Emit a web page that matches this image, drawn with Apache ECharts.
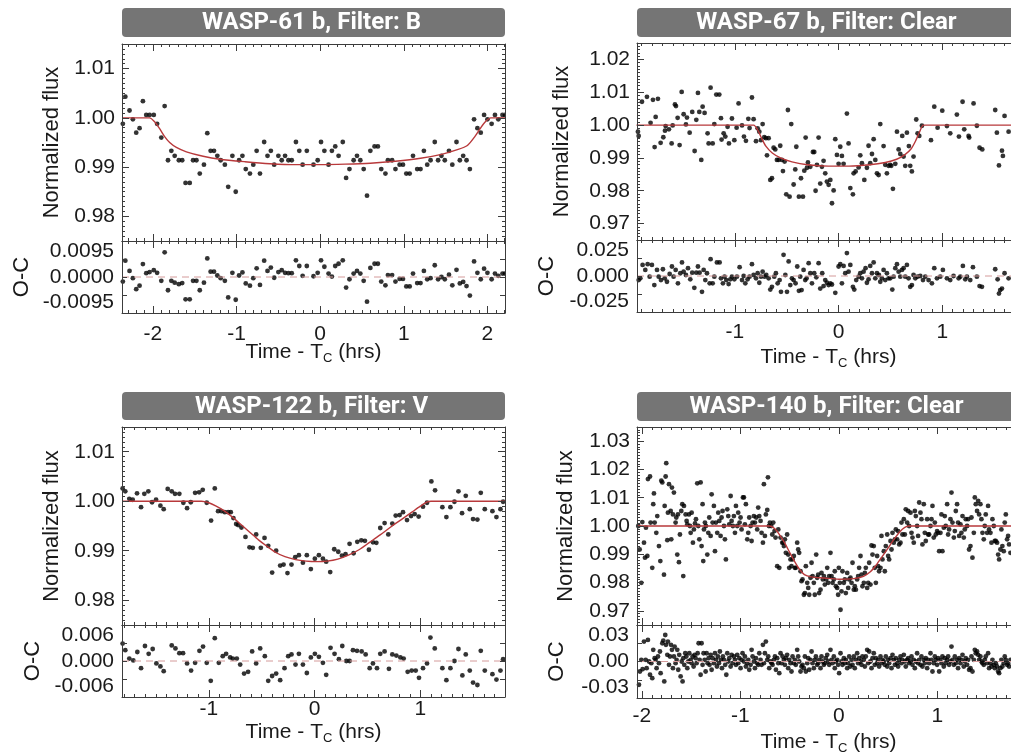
<!DOCTYPE html>
<html><head><meta charset="utf-8">
<script src="https://cdn.jsdelivr.net/npm/echarts@6.0.0/dist/echarts.min.js"></script>
<style>html,body{margin:0;padding:0;background:#fff;overflow:hidden}
#c{position:relative;width:1011px;height:756px;overflow:hidden;background:#fff}
.q{position:absolute;height:378px}</style>
</head><body><div id="c">
<div class="q" id="q0" style="left:0;top:0;width:506px"></div>
<div class="q" id="q1" style="left:506px;top:0;width:520px"></div>
<div class="q" id="q2" style="left:0;top:378px;width:506px"></div>
<div class="q" id="q3" style="left:506px;top:378px;width:520px"></div>
</div>
<script>
// ---------------- DATA ----------------
const titles = ['WASP-61 b, Filter: B', 'WASP-67 b, Filter: Clear', 'WASP-122 b, Filter: V', 'WASP-140 b, Filter: Clear'];

// tick labels
const p1XTicks = [-2, -1, 0, 1, 2];
const p1YTicks = [0.98, 0.99, 1.00, 1.01];
const p1ResLabels = [-0.0095, 0, 0.0095];
const p2XTicks = [-1, 0, 1];
const p2YTicks = [0.97, 0.98, 0.99, 1.00, 1.01, 1.02];
const p2ResLabels = [-0.025, 0, 0.025];
const p3XTicks = [-1, 0, 1];
const p3YTicks = [0.98, 0.99, 1.00, 1.01];
const p3ResLabels = [-0.006, 0, 0.006];
const p4XTicks = [-2, -1, 0, 1];
const p4YTicks = [0.97, 0.98, 0.99, 1.00, 1.01, 1.02, 1.03];
const p4ResLabels = [-0.03, 0, 0.03];

// Panel 1: WASP-61 b (time, flux, residual)
const p1Time = [-2.36,-2.33,-2.28,-2.24,-2.20,-2.16,-2.12,-2.08,-2.04,-1.99,-1.95,-1.90,-1.86,-1.82,-1.78,-1.74,-1.69,-1.65,-1.61,-1.56,-1.52,-1.48,-1.44,-1.39,-1.35,-1.31,-1.27,-1.23,-1.19,-1.14,-1.10,-1.05,-1.01,-0.97,-0.93,-0.89,-0.84,-0.80,-0.76,-0.72,-0.67,-0.63,-0.59,-0.55,-0.50,-0.46,-0.42,-0.38,-0.34,-0.29,-0.25,-0.21,-0.16,-0.08,-0.03,0.01,0.05,0.10,0.14,0.18,0.22,0.27,0.31,0.35,0.40,0.44,0.48,0.52,0.56,0.60,0.65,0.69,0.73,0.78,0.81,0.86,0.90,0.95,0.99,1.03,1.07,1.11,1.16,1.20,1.24,1.28,1.32,1.37,1.41,1.45,1.49,1.54,1.58,1.63,1.67,1.71,1.75,1.79,1.84,1.88,1.92,1.96,2.00,2.05,2.09,2.13,2.18,2.21];
const p1Flux = [0.9988,1.0043,1.0015,0.9997,0.9970,0.9979,1.0034,1.0006,1.0006,1.0006,0.9988,0.9960,1.0024,0.9914,0.9933,0.9923,0.9914,0.9914,0.9868,0.9868,0.9914,0.9914,0.9887,0.9905,0.9969,0.9933,0.9933,0.9923,0.9914,0.9905,0.9860,0.9923,0.9850,0.9914,0.9923,0.9896,0.9887,0.9905,0.9933,0.9887,0.9951,0.9923,0.9933,0.9905,0.9923,0.9914,0.9923,0.9914,0.9914,0.9951,0.9933,0.9905,0.9933,0.9905,0.9914,0.9951,0.9933,0.9905,0.9933,0.9942,0.9923,0.9951,0.9878,0.9896,0.9914,0.9923,0.9914,0.9896,0.9842,0.9933,0.9942,0.9942,0.9896,0.9887,0.9914,0.9914,0.9896,0.9905,0.9905,0.9887,0.9887,0.9923,0.9896,0.9896,0.9933,0.9905,0.9914,0.9951,0.9914,0.9923,0.9914,0.9933,0.9905,0.9951,0.9914,0.9923,0.9914,0.9896,0.9997,0.9979,0.9970,1.0006,0.9997,0.9988,1.0006,0.9997,1.0006,1.0006];
const p1Res = [-0.0012,0.0043,0.0016,-0.0003,-0.0032,-0.0023,0.0034,0.0010,0.0013,0.0018,0.0011,-0.0010,0.0065,-0.0035,-0.0010,-0.0015,-0.0019,-0.0016,-0.0059,-0.0059,-0.0010,-0.0010,-0.0035,-0.0015,0.0049,0.0014,0.0014,0.0004,-0.0003,-0.0010,-0.0054,0.0011,-0.0060,0.0004,0.0012,-0.0017,-0.0023,-0.0003,0.0023,-0.0021,0.0043,0.0016,0.0025,-0.0002,0.0013,0.0018,0.0011,0.0010,0.0010,0.0044,0.0029,0.0003,0.0029,0.0002,0.0011,0.0044,0.0027,0.0009,0.0001,0.0029,0.0035,0.0044,-0.0028,-0.0006,0.0009,0.0016,0.0009,-0.0010,-0.0065,0.0024,0.0035,0.0035,-0.0012,-0.0022,0.0005,0.0005,-0.0012,-0.0005,-0.0005,-0.0025,-0.0025,0.0009,-0.0016,-0.0016,0.0016,-0.0006,-0.0003,0.0031,-0.0006,0.0000,-0.0006,0.0006,-0.0022,0.0019,-0.0017,-0.0013,-0.0024,-0.0049,0.0041,0.0011,-0.0006,0.0022,0.0011,-0.0006,0.0009,0.0003,0.0009,0.0009];
const p1ModelTime = [-2.37,-2.04,-1.98,-1.92,-1.86,-1.80,-1.72,-1.60,-1.40,-1.20,-0.90,-0.60,-0.30,0.00,0.30,0.60,0.90,1.20,1.45,1.65,1.76,1.84,1.92,1.98,2.04,2.21];
const p1ModelFlux = [1.0000,1.0000,0.9992,0.9978,0.9962,0.9950,0.9940,0.9931,0.9922,0.9916,0.9911,0.9907,0.9905,0.9905,0.9906,0.9908,0.9912,0.9918,0.9926,0.9936,0.9944,0.9960,0.9980,0.9993,1.0000,1.0000];

// Panel 2: WASP-67 b [time, flux]
const p2Flux = [[-1.936,0.9980],[-1.929,0.9967],[-1.897,1.0071],[-1.849,1.0086],[-1.814,1.0007],[-1.791,1.0077],[-1.775,0.9933],[-1.765,1.0025],[-1.743,1.0080],[-1.717,0.9946],[-1.691,0.9963],[-1.675,0.9983],[-1.669,0.9997],[-1.637,0.9987],[-1.611,0.9944],[-1.601,0.9999],[-1.579,1.0063],[-1.569,1.0058],[-1.553,1.0022],[-1.534,0.9939],[-1.514,1.0101],[-1.495,1.0033],[-1.473,1.0002],[-1.463,1.0023],[-1.437,0.9977],[-1.412,1.0040],[-1.389,0.9921],[-1.373,1.0016],[-1.357,1.0098],[-1.344,1.0040],[-1.325,0.9894],[-1.312,1.0056],[-1.293,1.0037],[-1.264,0.9975],[-1.254,0.9944],[-1.235,1.0114],[-1.215,0.9944],[-1.199,1.0003],[-1.180,1.0093],[-1.151,1.0093],[-1.135,1.0021],[-1.129,0.9956],[-1.109,0.9975],[-1.093,0.9965],[-1.071,0.9995],[-1.058,0.9944],[-1.029,1.0020],[-1.006,0.9954],[-0.984,0.9992],[-0.965,1.0066],[-0.932,0.9999],[-0.913,0.9965],[-0.894,0.9952],[-0.871,1.0019],[-0.859,0.9991],[-0.836,1.0084],[-0.820,1.0018],[-0.797,0.9951],[-0.781,0.9990],[-0.765,0.9980],[-0.749,0.9954],[-0.733,1.0003],[-0.717,0.9963],[-0.701,0.9960],[-0.691,0.9908],[-0.675,0.9960],[-0.659,0.9833],[-0.643,0.9838],[-0.627,0.9931],[-0.611,0.9926],[-0.595,0.9894],[-0.579,0.9894],[-0.563,0.9937],[-0.547,0.9894],[-0.537,0.9860],[-0.521,0.9889],[-0.505,0.9789],[-0.489,1.0046],[-0.473,0.9782],[-0.457,1.0003],[-0.434,0.9819],[-0.418,0.9865],[-0.408,0.9934],[-0.383,0.9782],[-0.363,0.9838],[-0.344,0.9782],[-0.331,0.9861],[-0.318,0.9962],[-0.305,0.9870],[-0.296,0.9886],[-0.273,0.9873],[-0.248,0.9918],[-0.235,0.9918],[-0.222,0.9800],[-0.209,0.9879],[-0.193,0.9962],[-0.177,0.9822],[-0.161,0.9873],[-0.145,0.9891],[-0.129,0.9853],[-0.113,0.9828],[-0.096,0.9818],[-0.080,0.9833],[-0.064,0.9762],[-0.048,0.9801],[-0.032,0.9957],[-0.016,0.9909],[0.000,0.9882],[0.016,0.9934],[0.032,0.9906],[0.048,0.9882],[0.080,1.0035],[0.096,0.9944],[0.113,0.9808],[0.138,0.9789],[0.145,0.9853],[0.164,0.9859],[0.193,0.9871],[0.209,0.9908],[0.225,0.9884],[0.248,0.9833],[0.273,0.9870],[0.289,0.9937],[0.305,0.9884],[0.322,0.9912],[0.338,0.9957],[0.354,0.9894],[0.370,0.9853],[0.386,0.9848],[0.402,1.0003],[0.434,0.9936],[0.450,0.9879],[0.466,0.9853],[0.482,0.9876],[0.498,0.9879],[0.508,0.9876],[0.524,0.9806],[0.547,0.9882],[0.563,0.9980],[0.579,0.9926],[0.595,0.9912],[0.614,0.9967],[0.627,0.9904],[0.643,0.9876],[0.659,0.9977],[0.678,0.9936],[0.691,0.9876],[0.707,0.9859],[0.723,0.9904],[0.749,1.0017],[0.762,0.9975],[0.778,0.9967],[0.804,0.9998],[0.891,0.9954],[0.923,1.0056],[0.955,0.9992],[1.000,1.0044],[1.045,0.9997],[1.077,0.9975],[1.141,1.0032],[1.161,0.9965],[1.196,1.0071],[1.212,0.9987],[1.254,0.9967],[1.260,0.9962],[1.302,1.0066],[1.334,0.9998],[1.360,0.9931],[1.386,0.9926],[1.511,1.0046],[1.527,0.9977],[1.547,0.9877],[1.576,0.9922],[1.585,0.9906],[1.601,1.0028],[1.640,0.9980]];
const p2Res = [[-1.929,-0.0028],[-1.913,-0.0016],[-1.891,0.0077],[-1.865,0.0042],[-1.842,0.0082],[-1.823,-0.0005],[-1.801,0.0077],[-1.778,-0.0063],[-1.752,0.0042],[-1.736,-0.0005],[-1.714,-0.0028],[-1.695,0.0047],[-1.678,-0.0016],[-1.656,-0.0040],[-1.630,0.0014],[-1.608,0.0066],[-1.592,-0.0005],[-1.572,0.0042],[-1.550,-0.0051],[-1.527,0.0019],[-1.511,0.0094],[-1.495,0.0030],[-1.473,0.0007],[-1.453,0.0054],[-1.431,-0.0023],[-1.412,0.0023],[-1.392,-0.0082],[-1.373,0.0023],[-1.357,0.0066],[-1.341,0.0023],[-1.318,-0.0110],[-1.302,0.0042],[-1.286,-0.0028],[-1.270,0.0019],[-1.244,-0.0051],[-1.235,0.0117],[-1.215,-0.0051],[-1.199,-0.0005],[-1.174,0.0094],[-1.148,0.0094],[-1.135,-0.0016],[-1.116,-0.0051],[-1.100,-0.0005],[-1.084,-0.0028],[-1.061,-0.0056],[-1.045,-0.0023],[-1.029,-0.0005],[-1.006,-0.0023],[-0.981,-0.0005],[-0.955,0.0061],[-0.932,-0.0028],[-0.916,0.0000],[-0.900,-0.0051],[-0.878,-0.0023],[-0.859,-0.0005],[-0.836,0.0082],[-0.820,0.0007],[-0.797,-0.0016],[-0.781,0.0019],[-0.765,-0.0047],[-0.749,-0.0005],[-0.733,0.0030],[-0.714,-0.0005],[-0.698,0.0007],[-0.675,-0.0016],[-0.659,-0.0094],[-0.643,-0.0075],[-0.621,-0.0005],[-0.605,0.0019],[-0.588,-0.0051],[-0.569,-0.0028],[-0.556,-0.0110],[-0.531,0.0147],[-0.514,0.0007],[-0.498,-0.0110],[-0.482,0.0101],[-0.466,-0.0063],[-0.450,-0.0016],[-0.434,-0.0028],[-0.415,-0.0051],[-0.399,0.0066],[-0.383,-0.0103],[-0.370,-0.0005],[-0.357,-0.0098],[-0.338,0.0042],[-0.322,-0.0028],[-0.309,-0.0016],[-0.289,0.0089],[-0.273,0.0019],[-0.257,-0.0051],[-0.235,0.0019],[-0.215,-0.0009],[-0.193,0.0089],[-0.177,-0.0087],[-0.158,0.0019],[-0.145,-0.0070],[-0.129,-0.0028],[-0.113,-0.0047],[-0.096,-0.0063],[-0.080,-0.0051],[-0.064,-0.0059],[-0.032,-0.0117],[0.000,0.0066],[0.016,0.0082],[0.032,-0.0051],[0.048,0.0070],[0.064,0.0019],[0.080,0.0159],[0.096,0.0030],[0.113,0.0077],[0.138,-0.0075],[0.151,-0.0094],[0.170,-0.0028],[0.193,-0.0005],[0.209,0.0019],[0.225,-0.0016],[0.241,0.0030],[0.260,0.0054],[0.273,-0.0047],[0.289,-0.0023],[0.305,0.0070],[0.322,0.0019],[0.338,0.0094],[0.354,-0.0016],[0.370,0.0019],[0.389,0.0007],[0.402,-0.0040],[0.418,-0.0016],[0.434,0.0042],[0.450,-0.0028],[0.466,0.0019],[0.482,-0.0016],[0.498,-0.0016],[0.518,-0.0094],[0.531,-0.0005],[0.547,0.0054],[0.563,0.0082],[0.579,0.0030],[0.595,-0.0005],[0.611,0.0042],[0.627,0.0054],[0.643,-0.0005],[0.659,0.0077],[0.675,-0.0016],[0.691,-0.0075],[0.707,-0.0063],[0.723,0.0007],[0.740,-0.0016],[0.762,-0.0005],[0.788,0.0000],[0.814,-0.0028],[0.836,-0.0005],[0.868,-0.0028],[0.900,-0.0051],[0.923,0.0054],[0.949,-0.0016],[0.981,-0.0005],[1.006,0.0042],[1.045,-0.0016],[1.077,-0.0028],[1.109,0.0000],[1.158,-0.0016],[1.174,-0.0005],[1.199,0.0070],[1.222,-0.0023],[1.238,-0.0005],[1.270,-0.0028],[1.296,0.0061],[1.334,-0.0005],[1.360,-0.0070],[1.383,-0.0075],[1.511,0.0047],[1.534,-0.0023],[1.547,-0.0122],[1.559,-0.0098],[1.576,-0.0087],[1.601,0.0019],[1.640,-0.0016]];
const p2ModelTime = [-1.95,-0.82,-0.78,-0.74,-0.70,-0.64,-0.56,-0.45,-0.30,-0.10,0.10,0.30,0.45,0.56,0.64,0.70,0.74,0.78,0.82,1.75];
const p2ModelFlux = [1.0000,1.0000,0.9985,0.9958,0.9935,0.9915,0.9900,0.9888,0.9879,0.9875,0.9875,0.9879,0.9886,0.9896,0.9910,0.9928,0.9950,0.9978,1.0000,1.0000];

// Panel 3: WASP-122 b [time, flux]
const p3Flux = [[-1.814,1.0026],[-1.789,1.0020],[-1.751,1.0005],[-1.719,1.0003],[-1.678,1.0016],[-1.640,0.9988],[-1.609,1.0015],[-1.571,1.0020],[-1.536,0.9998],[-1.498,1.0003],[-1.457,0.9991],[-1.426,0.9984],[-1.388,1.0025],[-1.350,1.0020],[-1.319,1.0015],[-1.278,1.0015],[-1.240,0.9997],[-1.205,0.9986],[-1.170,0.9998],[-1.129,1.0017],[-1.091,1.0018],[-1.057,1.0023],[-1.019,0.9997],[-0.978,0.9961],[-0.943,1.0026],[-0.912,0.9980],[-0.880,0.9980],[-0.849,0.9978],[-0.817,0.9978],[-0.792,0.9978],[-0.767,0.9966],[-0.741,0.9954],[-0.722,0.9952],[-0.691,0.9947],[-0.653,0.9928],[-0.615,0.9907],[-0.584,0.9906],[-0.552,0.9933],[-0.508,0.9906],[-0.473,0.9926],[-0.438,0.9910],[-0.401,0.9856],[-0.363,0.9900],[-0.325,0.9870],[-0.293,0.9872],[-0.256,0.9855],[-0.218,0.9872],[-0.183,0.9887],[-0.148,0.9891],[-0.110,0.9876],[-0.073,0.9891],[-0.035,0.9863],[0.003,0.9884],[0.041,0.9891],[0.079,0.9884],[0.110,0.9878],[0.148,0.9857],[0.186,0.9903],[0.224,0.9898],[0.259,0.9890],[0.293,0.9893],[0.331,0.9914],[0.369,0.9895],[0.404,0.9918],[0.442,0.9921],[0.476,0.9920],[0.514,0.9902],[0.552,0.9917],[0.584,0.9916],[0.621,0.9946],[0.662,0.9956],[0.697,0.9933],[0.735,0.9955],[0.767,0.9971],[0.804,0.9972],[0.836,0.9978],[0.874,0.9962],[0.912,0.9970],[0.946,0.9974],[0.984,0.9969],[1.025,0.9989],[1.063,0.9997],[1.104,1.0040],[1.139,1.0022],[1.208,0.9988],[1.246,0.9968],[1.284,0.9988],[1.322,0.9999],[1.360,1.0020],[1.394,0.9976],[1.429,1.0011],[1.467,0.9984],[1.498,0.9964],[1.539,0.9963],[1.571,1.0017],[1.609,0.9984],[1.681,0.9980],[1.719,0.9968],[1.757,0.9984],[1.782,0.9999]];
const p3Res = [[-1.814,0.0029],[-1.789,0.0018],[-1.751,0.0004],[-1.713,0.0001],[-1.675,0.0015],[-1.640,-0.0012],[-1.603,0.0025],[-1.568,0.0012],[-1.530,0.0020],[-1.495,-0.0004],[-1.457,-0.0009],[-1.426,-0.0017],[-1.350,0.0026],[-1.315,0.0021],[-1.278,0.0013],[-1.243,0.0013],[-1.205,-0.0004],[-1.167,-0.0016],[-1.129,-0.0003],[-1.088,0.0017],[-1.054,0.0024],[-1.019,-0.0003],[-0.981,-0.0033],[-0.943,0.0038],[-0.905,-0.0003],[-0.868,0.0008],[-0.836,0.0012],[-0.798,0.0006],[-0.773,0.0004],[-0.735,0.0004],[-0.703,-0.0006],[-0.666,-0.0021],[-0.628,-0.0018],[-0.590,0.0016],[-0.552,-0.0004],[-0.514,0.0021],[-0.470,0.0008],[-0.438,-0.0033],[-0.401,-0.0025],[-0.363,-0.0021],[-0.325,-0.0032],[-0.284,-0.0012],[-0.249,0.0008],[-0.218,0.0011],[-0.180,-0.0006],[-0.148,0.0012],[-0.110,-0.0006],[-0.073,-0.0020],[-0.035,0.0006],[0.003,0.0012],[0.041,0.0007],[0.079,-0.0003],[0.110,-0.0023],[0.151,0.0022],[0.189,0.0012],[0.230,0.0003],[0.262,0.0025],[0.300,0.0000],[0.331,0.0000],[0.363,0.0018],[0.401,0.0017],[0.445,0.0016],[0.483,0.0011],[0.521,-0.0012],[0.552,-0.0004],[0.590,-0.0012],[0.621,0.0012],[0.662,0.0016],[0.703,-0.0013],[0.735,0.0011],[0.773,0.0009],[0.811,0.0006],[0.842,0.0004],[0.880,-0.0018],[0.918,-0.0016],[0.956,-0.0016],[0.987,-0.0028],[1.025,-0.0012],[1.063,-0.0004],[1.095,0.0039],[1.136,0.0021],[1.208,-0.0012],[1.246,-0.0032],[1.284,-0.0012],[1.322,0.0000],[1.360,0.0020],[1.397,-0.0024],[1.429,0.0011],[1.467,-0.0016],[1.498,-0.0036],[1.539,-0.0040],[1.571,0.0017],[1.609,-0.0016],[1.681,-0.0022],[1.719,-0.0031],[1.757,-0.0016],[1.782,0.0003]];
const p3ModelTime = [-1.82,-1.07,-1.00,-0.93,-0.85,-0.77,-0.69,-0.61,-0.53,-0.45,-0.37,-0.28,-0.18,-0.08,0.02,0.12,0.22,0.32,0.42,0.52,0.62,0.72,0.82,0.92,1.00,1.06,1.10,1.81];
const p3ModelFlux = [1.0000,1.0000,0.9997,0.9990,0.9980,0.9967,0.9952,0.9937,0.9922,0.9909,0.9897,0.9888,0.9882,0.9879,0.9878,0.9879,0.9883,0.9891,0.9902,0.9917,0.9932,0.9948,0.9963,0.9978,0.9990,0.9998,1.0000,1.0000];

// Panel 4: WASP-140 b [time, flux]
const p4Flux = [[-2.037,1.0000],[-2.023,0.9917],[-2.006,0.9799],[-1.996,1.0014],[-1.979,0.9941],[-1.969,0.9888],[-1.959,0.9994],[-1.945,0.9894],[-1.939,1.0166],[-1.918,1.0175],[-1.912,1.0012],[-1.895,0.9852],[-1.885,1.0077],[-1.878,1.0115],[-1.871,1.0012],[-1.854,0.9976],[-1.844,1.0035],[-1.827,0.9929],[-1.813,0.9876],[-1.803,1.0160],[-1.793,1.0154],[-1.776,0.9828],[-1.769,1.0071],[-1.759,1.0175],[-1.753,1.0222],[-1.742,0.9950],[-1.736,1.0047],[-1.725,1.0148],[-1.708,1.0053],[-1.702,0.9953],[-1.695,1.0136],[-1.685,1.0041],[-1.675,1.0118],[-1.658,1.0012],[-1.651,1.0030],[-1.641,0.9899],[-1.634,1.0041],[-1.624,0.9872],[-1.614,0.9970],[-1.600,1.0053],[-1.590,1.0077],[-1.580,0.9823],[-1.573,1.0071],[-1.556,1.0041],[-1.546,1.0018],[-1.539,1.0006],[-1.522,1.0041],[-1.512,1.0000],[-1.505,0.9976],[-1.495,1.0047],[-1.482,0.9941],[-1.472,0.9988],[-1.461,1.0009],[-1.451,1.0024],[-1.438,1.0151],[-1.428,1.0000],[-1.417,0.9953],[-1.404,1.0154],[-1.394,0.9929],[-1.384,1.0077],[-1.377,0.9876],[-1.370,0.9988],[-1.360,1.0012],[-1.350,1.0000],[-1.336,0.9899],[-1.326,0.9976],[-1.316,1.0030],[-1.302,0.9965],[-1.292,1.0112],[-1.282,1.0012],[-1.269,1.0071],[-1.258,0.9911],[-1.248,1.0012],[-1.235,0.9976],[-1.225,1.0047],[-1.214,1.0018],[-1.201,0.9965],[-1.191,1.0030],[-1.181,1.0053],[-1.167,1.0000],[-1.157,0.9953],[-1.147,0.9882],[-1.133,1.0059],[-1.123,1.0035],[-1.113,1.0006],[-1.099,1.0106],[-1.089,1.0018],[-1.076,1.0000],[-1.066,1.0035],[-1.055,0.9976],[-1.045,1.0071],[-1.032,1.0000],[-1.022,1.0047],[-1.008,1.0012],[-0.998,1.0030],[-0.988,0.9988],[-0.974,1.0101],[-0.964,1.0101],[-0.954,1.0006],[-0.944,1.0077],[-0.930,0.9953],[-0.920,0.9976],[-0.910,1.0030],[-0.896,1.0000],[-0.886,0.9947],[-0.876,1.0012],[-0.863,1.0035],[-0.852,1.0012],[-0.839,1.0030],[-0.829,0.9988],[-0.819,1.0065],[-0.808,1.0035],[-0.795,1.0018],[-0.785,0.9976],[-0.771,0.9941],[-0.761,1.0148],[-0.751,0.9965],[-0.741,1.0041],[-0.727,1.0057],[-0.720,1.0172],[-0.710,1.0000],[-0.700,1.0012],
[-0.687,1.0000],[-0.676,0.9970],[-0.666,1.0012],[-0.653,0.9982],[-0.643,0.9959],[-0.626,0.9858],[-0.615,0.9988],[-0.605,0.9852],[-0.592,0.9959],[-0.575,0.9941],[-0.565,0.9941],[-0.558,0.9929],[-0.548,0.9953],[-0.538,0.9905],[-0.525,0.9970],[-0.514,0.9899],[-0.504,0.9852],[-0.491,0.9882],[-0.481,0.9858],[-0.470,0.9882],[-0.457,0.9894],[-0.447,0.9852],[-0.437,0.9852],[-0.423,0.9941],[-0.413,0.9917],[-0.403,0.9905],[-0.389,0.9840],[-0.379,0.9805],[-0.369,0.9811],[-0.355,0.9757],[-0.345,0.9763],[-0.335,0.9858],[-0.321,0.9799],[-0.311,0.9781],[-0.301,0.9757],[-0.288,0.9817],[-0.277,0.9870],[-0.267,0.9823],[-0.254,0.9799],[-0.244,0.9757],[-0.230,0.9899],[-0.220,0.9817],[-0.210,0.9828],[-0.200,0.9763],[-0.186,0.9775],[-0.176,0.9834],[-0.162,0.9811],[-0.152,0.9823],[-0.142,0.9793],[-0.129,0.9811],[-0.118,0.9852],[-0.108,0.9799],[-0.098,0.9823],[-0.085,0.9905],[-0.074,0.9823],[-0.064,0.9799],[-0.051,0.9811],[-0.041,0.9840],[-0.030,0.9787],[-0.017,0.9781],[-0.007,0.9757],[0.000,0.9852],[0.010,0.9799],[0.017,0.9704],[0.027,0.9769],[0.037,0.9840],[0.051,0.9799],[0.061,0.9811],[0.071,0.9763],[0.085,0.9834],[0.095,0.9781],[0.105,0.9811],[0.118,0.9817],[0.129,0.9799],[0.139,0.9870],[0.152,0.9775],[0.162,0.9787],[0.173,0.9775],[0.186,0.9811],[0.196,0.9823],[0.206,0.9852],[0.220,0.9894],[0.230,0.9828],[0.240,0.9787],[0.254,0.9799],[0.264,0.9834],[0.274,0.9852],[0.288,0.9781],[0.298,0.9799],[0.308,0.9870],[0.321,0.9793],[0.332,0.9931],[0.342,0.9899],[0.355,0.9929],[0.365,0.9852],[0.376,0.9799],[0.389,0.9894],[0.399,0.9858],[0.409,0.9840],[0.423,0.9852],[0.433,0.9965],[0.443,0.9882],[0.457,0.9911],[0.467,0.9840],[0.477,0.9929],[0.491,0.9970],[0.501,0.9894],[0.511,0.9882],[0.525,0.9947],[0.535,0.9917],[0.545,0.9976],[0.558,0.9941],[0.569,0.9953],[0.579,0.9988],[0.592,0.9953],[0.602,0.9982],[0.613,0.9935],[0.626,0.9941],[0.636,1.0012],[0.646,0.9970],[0.660,1.0024],[0.670,0.9970],[0.680,1.0059],[0.694,1.0012],[0.704,1.0053],[0.714,1.0000],
[0.728,1.0047],[0.738,0.9976],[0.748,0.9959],[0.761,0.9941],[0.772,1.0053],[0.782,1.0035],[0.795,1.0000],[0.805,0.9965],[0.816,1.0083],[0.829,1.0047],[0.839,1.0024],[0.849,0.9935],[0.863,1.0077],[0.873,0.9976],[0.883,0.9947],[0.897,1.0024],[0.907,0.9970],[0.917,0.9970],[0.931,1.0000],[0.941,1.0024],[0.951,1.0071],[0.964,0.9959],[0.975,1.0012],[0.985,0.9970],[0.998,0.9982],[1.008,0.9976],[1.019,0.9911],[1.032,0.9976],[1.042,1.0041],[1.052,0.9911],[1.066,0.9994],[1.076,1.0035],[1.086,1.0000],[1.100,1.0077],[1.110,0.9970],[1.120,0.9988],[1.134,1.0024],[1.144,1.0118],[1.154,1.0012],[1.168,0.9959],[1.178,0.9982],[1.188,1.0053],[1.201,1.0077],[1.211,1.0012],[1.222,0.9965],[1.235,1.0006],[1.245,0.9976],[1.256,1.0035],[1.269,0.9959],[1.279,0.9988],[1.289,1.0024],[1.303,1.0000],[1.313,1.0024],[1.323,0.9917],[1.337,0.9929],[1.347,1.0030],[1.357,0.9888],[1.371,0.9976],[1.381,1.0101],[1.391,1.0077],[1.404,1.0053],[1.415,1.0089],[1.425,1.0041],[1.438,1.0077],[1.448,1.0024],[1.459,0.9976],[1.472,0.9953],[1.482,1.0000],[1.492,1.0041],[1.506,0.9976],[1.516,1.0071],[1.526,0.9988],[1.540,0.9976],[1.550,0.9941],[1.560,1.0024],[1.574,1.0000],[1.584,0.9947],[1.594,0.9947],[1.607,0.9941],[1.618,0.9899],[1.628,0.9882],[1.641,0.9917],[1.651,0.9988],[1.661,0.9929],[1.675,0.9911],[1.685,1.0012],[1.696,1.0041],[1.709,0.9953],[1.719,0.9965],[1.729,0.9935],[1.743,0.9905]];
const p4Res = [[-2.030,-0.0191],[-2.020,-0.0082],[-2.006,0.0014],[-1.993,-0.0063],[-1.979,0.0164],[-1.962,0.0014],[-1.952,-0.0055],[-1.939,0.0177],[-1.928,0.0000],[-1.918,-0.0109],[-1.905,-0.0014],[-1.895,-0.0137],[-1.885,0.0096],[-1.871,0.0027],[-1.861,0.0014],[-1.851,-0.0055],[-1.837,0.0041],[-1.827,-0.0014],[-1.817,0.0082],[-1.810,-0.0096],[-1.793,0.0150],[-1.783,0.0172],[-1.773,-0.0164],[-1.763,0.0218],[-1.756,0.0137],[-1.742,0.0055],[-1.736,0.0164],[-1.725,-0.0027],[-1.715,0.0041],[-1.705,0.0137],[-1.695,0.0096],[-1.685,-0.0055],[-1.675,0.0041],[-1.668,0.0123],[-1.658,-0.0014],[-1.648,0.0014],[-1.641,0.0096],[-1.631,-0.0068],[-1.621,0.0055],[-1.607,-0.0123],[-1.597,0.0000],[-1.587,-0.0164],[-1.580,0.0027],[-1.570,-0.0027],[-1.560,0.0068],[-1.549,0.0041],[-1.539,-0.0055],[-1.529,0.0000],[-1.519,0.0068],[-1.505,0.0014],[-1.495,-0.0014],[-1.485,0.0041],[-1.475,-0.0041],[-1.465,0.0055],[-1.455,0.0027],[-1.445,-0.0014],[-1.434,0.0068],[-1.424,0.0150],[-1.414,0.0014],[-1.404,-0.0109],[-1.394,0.0150],[-1.384,-0.0027],[-1.374,0.0068],[-1.363,0.0014],[-1.353,-0.0082],[-1.343,0.0068],[-1.333,-0.0014],[-1.323,0.0027],[-1.313,-0.0027],[-1.302,0.0055],[-1.292,-0.0068],[-1.282,0.0027],[-1.269,-0.0014],[-1.258,0.0068],[-1.248,0.0014],[-1.238,-0.0041],[-1.228,0.0041],[-1.218,-0.0014],[-1.208,0.0082],[-1.197,0.0014],[-1.187,-0.0055],[-1.177,0.0041],[-1.167,0.0014],[-1.154,-0.0027],[-1.143,-0.0109],[-1.133,0.0068],[-1.123,0.0000],[-1.113,0.0027],[-1.099,-0.0041],[-1.089,0.0055],[-1.079,-0.0014],[-1.066,0.0041],[-1.055,0.0014],[-1.045,-0.0027],[-1.032,0.0055],[-1.022,-0.0014],[-1.011,0.0027],[-0.998,-0.0055],[-0.988,0.0014],[-0.978,0.0068],[-0.964,0.0000],[-0.954,0.0041],[-0.944,-0.0041],[-0.930,-0.0014],[-0.920,0.0014],[-0.910,-0.0068],[-0.896,-0.0027],[-0.886,0.0096],[-0.876,0.0041],[-0.863,0.0000],[-0.852,-0.0055],[-0.842,0.0027],[-0.829,-0.0014],[-0.819,-0.0027],[-0.808,0.0068],[-0.795,0.0014],[-0.785,-0.0027],[-0.771,0.0137],[-0.761,-0.0014],[-0.751,0.0068],[-0.741,0.0164],[-0.727,0.0014],[-0.717,0.0041],[-0.707,-0.0055],[-0.693,0.0000],[-0.683,-0.0014],[-0.673,-0.0027],[-0.660,0.0014],[-0.649,0.0041],[-0.639,-0.0068],[-0.626,0.0027],[-0.615,-0.0014],[-0.605,-0.0096],[-0.592,0.0068],[-0.582,-0.0014],[-0.571,0.0041],[-0.558,0.0014],[-0.548,-0.0027],[-0.538,0.0027],[-0.525,0.0055],[-0.514,-0.0055],[-0.504,0.0014],[-0.491,-0.0014],[-0.481,-0.0082],[-0.470,0.0041],[-0.457,-0.0014],[-0.447,0.0014],[-0.437,-0.0027],[-0.423,0.0096],[-0.413,0.0041],[-0.403,0.0000],[-0.389,-0.0082],[-0.379,-0.0041],[-0.369,-0.0027],[-0.355,-0.0055],[-0.345,0.0041],[-0.335,-0.0082],[-0.321,-0.0014],[-0.311,0.0027],[-0.301,-0.0068],[-0.288,0.0014],[-0.277,0.0082],[-0.267,-0.0014],[-0.254,-0.0055],[-0.244,0.0014],[-0.233,0.0041],[-0.220,-0.0027],[-0.210,-0.0014],[-0.200,0.0014],[-0.186,-0.0055],[-0.176,0.0041],[-0.166,0.0000],[-0.152,-0.0027],[-0.142,-0.0014],[-0.132,0.0027],[-0.118,0.0055],[-0.108,0.0000],[-0.098,-0.0027],[-0.085,0.0096],[-0.074,0.0014],[-0.064,-0.0014],[-0.051,0.0041],[-0.041,-0.0055],[-0.030,0.0000],[-0.017,0.0014],[-0.007,-0.0027],[0.003,-0.0096],[0.017,0.0068],[0.027,0.0000],[0.037,-0.0027],[0.051,0.0027],[0.061,-0.0014],[0.071,0.0014],[0.085,-0.0055],[0.095,-0.0014],[0.105,0.0041],[0.118,-0.0041],[0.129,0.0014],[0.139,-0.0027],[0.152,0.0041],[0.162,-0.0055],[0.173,0.0014],[0.186,0.0068],[0.196,-0.0014],[0.206,0.0027],[0.220,0.0000],[0.230,-0.0027],[0.240,0.0041],[0.254,0.0014],[0.264,-0.0041],[0.274,0.0041],[0.288,0.0096],[0.298,-0.0014],[0.308,0.0082],[0.321,0.0000],[0.332,-0.0055],[0.342,0.0027],[0.355,0.0068],[0.365,-0.0027],[0.376,0.0027],[0.389,-0.0014],[0.399,0.0014],[0.409,-0.0041],[0.423,0.0041],[0.433,-0.0014],[0.443,0.0014],[0.457,0.0000],[0.467,-0.0027],[0.477,0.0041],[0.491,-0.0041],[0.501,0.0014],[0.511,-0.0014],[0.525,0.0027],[0.535,-0.0055],[0.545,0.0055],[0.558,0.0014],[0.569,-0.0027],[0.579,0.0027],[0.592,-0.0014],[0.602,-0.0041],[0.613,0.0014],[0.626,0.0041],[0.636,-0.0014],[0.646,0.0014],[0.660,0.0055],[0.670,0.0000],[0.680,-0.0041],[0.694,0.0014],[0.704,0.0027],[0.714,-0.0014],[0.728,0.0000],[0.738,0.0041],[0.748,-0.0027],[0.761,0.0014],[0.772,-0.0055],[0.782,0.0000],[0.795,0.0068],[0.805,-0.0014],[0.816,0.0014],[0.829,-0.0027],[0.839,0.0041],[0.849,-0.0041],[0.863,0.0014],[0.873,-0.0014],[0.883,0.0027],[0.897,-0.0055],[0.907,0.0014],[0.917,-0.0014],[0.931,0.0068],[0.941,0.0014],[0.951,-0.0082],[0.964,-0.0014],[0.975,0.0041],[0.985,0.0014],[0.998,-0.0027],[1.008,0.0027],[1.019,-0.0082],[1.032,0.0014],[1.042,-0.0014],[1.052,0.0041],[1.066,-0.0041],[1.076,0.0027],[1.086,-0.0014],[1.100,0.0014],[1.110,0.0041],[1.120,-0.0027],[1.134,0.0000],[1.144,0.0123],[1.154,0.0014],[1.168,-0.0027],[1.178,0.0041],[1.188,-0.0014],[1.201,0.0014],[1.211,-0.0055],[1.222,0.0027],[1.235,-0.0014],[1.245,0.0014],[1.256,0.0055],[1.269,-0.0041],[1.279,0.0000],[1.289,0.0027],[1.303,-0.0027],[1.313,0.0014],[1.323,-0.0068],[1.337,-0.0055],[1.347,0.0041],[1.357,-0.0082],[1.371,0.0014],[1.381,0.0096],[1.391,0.0068],[1.404,0.0082],[1.415,0.0055],[1.425,0.0014],[1.438,0.0041],[1.448,0.0000],[1.459,-0.0014],[1.472,-0.0027],[1.482,0.0014],[1.492,0.0041],[1.506,-0.0014],[1.516,0.0068],[1.526,-0.0055],[1.540,-0.0014],[1.550,-0.0041],[1.560,0.0014],[1.574,-0.0027],[1.584,-0.0055],[1.594,-0.0014],[1.607,-0.0041],[1.618,-0.0082],[1.628,-0.0096],[1.641,-0.0055],[1.651,0.0014],[1.661,-0.0041],[1.675,-0.0014],[1.685,0.0041],[1.696,0.0014],[1.709,-0.0027],[1.719,-0.0014],[1.729,-0.0041],[1.743,0.0014]];
const p4ModelTime = [-2.05,-0.70,-0.65,-0.60,-0.55,-0.50,-0.45,-0.40,-0.35,-0.28,-0.15,0.00,0.15,0.25,0.32,0.38,0.44,0.50,0.56,0.62,0.67,0.71,1.85];
const p4ModelFlux = [1.0000,1.0000,0.9990,0.9968,0.9940,0.9907,0.9875,0.9847,0.9828,0.9820,0.9816,0.9812,0.9814,0.9822,0.9838,0.9862,0.9892,0.9922,0.9953,0.9980,0.9995,1.0000,1.0000];

// ---------------- LAYOUT (page coordinates; each panel drawn in its own chart) ----------------
const zip = (a, b) => a.map((v, i) => [v, b[i]]);
const panels = [
  {dom:'q0', ox:0, oy:0, left:122, top:44, width:383, mainH:197, resH:72, xMin:-2.37, xMax:2.21, yMin:0.975, yMax:1.015, resL:0.0095, resDec:4,
   title:titles[0], titleY:8, titleH:29, xTicks:p1XTicks, yTicks:p1YTicks, resLabels:p1ResLabels,
   flux:zip(p1Time,p1Flux), res:zip(p1Time,p1Res), model:zip(p1ModelTime,p1ModelFlux),
   xLabelMargin:11, xNameY:352, yNameX:52, ocX:22},
  {dom:'q1', ox:506, oy:0, left:637, top:43, width:383, mainH:197, resH:72, xMin:-1.945, xMax:1.75, yMin:0.965, yMax:1.025, resL:0.025, resDec:3,
   title:titles[1], titleY:8, titleH:29, xTicks:p2XTicks, yTicks:p2YTicks, resLabels:p2ResLabels,
   flux:p2Flux, res:p2Res, model:zip(p2ModelTime,p2ModelFlux),
   xLabelMargin:10, xNameY:357, yNameX:562, ocX:547},
  {dom:'q2', ox:0, oy:378, left:122, top:427, width:383, mainH:198, resH:72, xMin:-1.82, xMax:1.80, yMin:0.975, yMax:1.015, resL:0.006, resDec:3,
   title:titles[2], titleY:392, titleH:28, xTicks:p3XTicks, yTicks:p3YTicks, resLabels:p3ResLabels,
   flux:p3Flux, res:p3Res, model:zip(p3ModelTime,p3ModelFlux),
   xLabelMargin:2, xNameY:732, yNameX:52, ocX:33},
  {dom:'q3', ox:506, oy:378, left:637, top:427, width:383, mainH:198, resH:73, xMin:-2.05, xMax:1.84, yMin:0.965, yMax:1.035, resL:0.03, resDec:2,
   title:titles[3], titleY:392, titleH:29, xTicks:p4XTicks, yTicks:p4YTicks, resLabels:p4ResLabels,
   flux:p4Flux, res:p4Res, model:zip(p4ModelTime,p4ModelFlux),
   xLabelMargin:8, xNameY:742, yNameX:566, ocX:557}
];

const FONT = '"Liberation Sans", Arial, Helvetica, sans-serif';
const AX = '#3c3c3c';
const TXT = '#1a1a1a';
const RED = '#b8393b';

function buildPanel(p) {
  const L = p.left - p.ox, T = p.top - p.oy;
  const option = {animation:false, grid:[], xAxis:[], yAxis:[], series:[], graphic:[]};
  option.grid.push({left:L, top:T, width:p.width, height:p.mainH, show:false});
  option.grid.push({left:L, top:T + p.mainH, width:p.width, height:p.resH, show:false});
  const LINE = () => ({show:true, onZero:false, lineStyle:{color:AX, width:1}});

  const xAx = (grid, pos, labels) => ({
    type:'value', gridIndex:grid, position:pos, min:p.xMin, max:p.xMax, minInterval:1, maxInterval:1, splitNumber:5,
    splitLine:{show:false}, axisLine:LINE(), z:6,
    axisTick:{show:true, inside:true, length:7, lineStyle:{color:AX, width:1}},
    minorTick:{show:true, splitNumber:10, length:3, lineStyle:{color:AX, width:1}},
    axisLabel: labels ? {show:true, customValues:p.xTicks, margin:p.xLabelMargin, fontSize:21, fontFamily:FONT, color:TXT,
                         formatter: v => String(Math.round(v))} : {show:false}
  });
  option.xAxis.push(xAx(0, 'bottom', false));
  option.xAxis.push(xAx(0, 'top', false));
  option.xAxis.push(xAx(1, 'bottom', true));
  option.xAxis.push(xAx(1, 'top', false));

  const yMain = (pos, labels) => ({
    type:'value', gridIndex:0, position:pos, min:p.yMin, max:p.yMax, minInterval:0.01, maxInterval:0.01, splitNumber:6,
    splitLine:{show:false}, axisLine:LINE(), z:6,
    axisTick:{show:true, inside:true, length:7, lineStyle:{color:AX, width:1}},
    minorTick:{show:true, splitNumber:10, length:3, lineStyle:{color:AX, width:1}},
    axisLabel: labels ? {show:true, customValues:p.yTicks, margin:7, fontSize:21, fontFamily:FONT, color:TXT,
                         formatter: v => v.toFixed(2)} : {show:false}
  });
  option.yAxis.push(yMain('left', true));
  option.yAxis.push(yMain('right', false));

  const yRes = (pos, labels) => ({
    type:'value', gridIndex:1, position:pos, min:-p.resL, max:p.resL, minInterval:p.resL/2, maxInterval:p.resL/2, splitNumber:4,
    splitLine:{show:false}, axisLine:LINE(), z:6,
    axisTick:{show:true, inside:true, length:5, lineStyle:{color:AX, width:1}},
    axisLabel: labels ? {show:true, customValues:p.resLabels, margin:8, fontSize:21, fontFamily:FONT, color:TXT,
                         verticalAlignMaxLabel:'top', verticalAlignMinLabel:'bottom',
                         formatter: v => (Math.abs(v) < 1e-12 ? 0 : v).toFixed(p.resDec)} : {show:false}
  });
  option.yAxis.push(yRes('left', true));
  option.yAxis.push(yRes('right', false));

  option.series.push({type:'line', xAxisIndex:0, yAxisIndex:0, data:p.model, showSymbol:false, smooth:0.25,
                      lineStyle:{color:RED, width:1.4}, silent:true});
  option.series.push({type:'scatter', xAxisIndex:0, yAxisIndex:0, data:p.flux, symbolSize:4.8,
                      itemStyle:{color:'#000'}, silent:true});
  option.series.push({type:'line', xAxisIndex:2, yAxisIndex:2, data:[[p.xMin,0],[p.xMax,0]], showSymbol:false,
                      lineStyle:{color:'#d49a9a', width:1, type:[7,5]}, silent:true});
  option.series.push({type:'scatter', xAxisIndex:2, yAxisIndex:2, data:p.res, symbolSize:4.8,
                      itemStyle:{color:'#000'}, silent:true});

  // title bar
  option.graphic.push({type:'rect', shape:{x:L, y:p.titleY - p.oy, width:p.width, height:p.titleH, r:4},
                       style:{fill:'#757575'}, silent:true});
  option.graphic.push({type:'text', x:L + p.width/2 - 2, y:p.titleY - p.oy + p.titleH/2 + 0.5,
                       style:{text:p.title, fill:'#ffffff', font:'bold 24px Roboto, "Liberation Sans", sans-serif',
                              textAlign:'center', textVerticalAlign:'middle'}, silent:true});
  // y-axis names
  option.graphic.push({type:'text', x:p.yNameX - p.ox, y:T + p.mainH/2, rotation:Math.PI/2,
                       style:{text:'Normalized flux', fill:TXT, font:'22px ' + FONT, textAlign:'center', textVerticalAlign:'middle'}, silent:true});
  option.graphic.push({type:'text', x:p.ocX - p.ox, y:T + p.mainH + p.resH/2, rotation:Math.PI/2,
                       style:{text:'O-C', fill:TXT, font:'22px ' + FONT, textAlign:'center', textVerticalAlign:'middle'}, silent:true});
  // x-axis name
  option.graphic.push({type:'text', x:L + p.width/2, y:p.xNameY - p.oy,
                       style:{text:'Time - T{s|C} (hrs)', fill:TXT, fontSize:21, fontFamily:FONT, lineHeight:26,
                              textAlign:'center', textVerticalAlign:'middle',
                              rich:{s:{fontSize:13, fontFamily:FONT, fill:TXT, lineHeight:13, verticalAlign:'bottom'}}}, silent:true});
  return option;
}

panels.forEach(p => {
  const chart = echarts.init(document.getElementById(p.dom));
  chart.setOption(buildPanel(p));
});
</script></body></html>
